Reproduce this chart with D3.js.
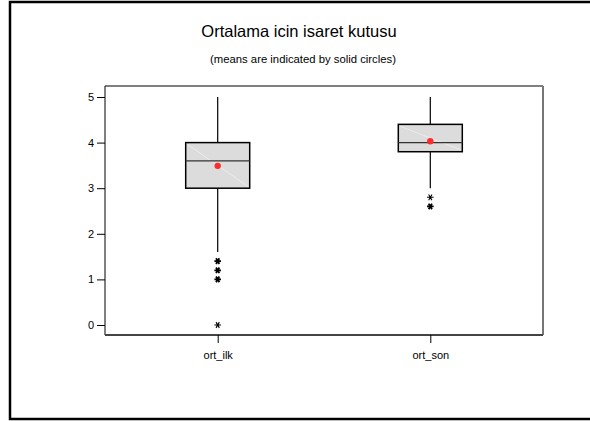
<!DOCTYPE html>
<html>
<head>
<meta charset="utf-8">
<script src="https://cdn.jsdelivr.net/npm/d3@7"></script>
<style>
  html, body { margin: 0; padding: 0; background: #fff; }
  text { font-family: "Liberation Sans", Arial, sans-serif; fill: #000; }
</style>
</head>
<body>
<svg id="chart" width="590" height="421"></svg>
<script>
// Box plot summaries for the two variables
const categories = ["ort_ilk", "ort_son"];
const q1 = [3.0, 3.8];
const medians = [3.6, 4.0];
const q3 = [4.0, 4.4];
const whiskerLow = [1.6, 3.0];
const whiskerHigh = [5.0, 5.0];
const means = [3.49, 4.03];
// Outliers: [category index, value, number of observations]
const outliers = [
  [0, 1.4, 2], [0, 1.2, 2], [0, 1.0, 2], [0, 0.0, 1],
  [1, 2.8, 1], [1, 2.6, 2]
];
const yTicks = [0, 1, 2, 3, 4, 5];

const svg = d3.select("#chart");

// Outer frame
svg.append("rect")
  .attr("x", 10).attr("y", 2)
  .attr("width", 590).attr("height", 417)
  .attr("fill", "none").attr("stroke", "#000").attr("stroke-width", 2.5);

// Titles
svg.append("text").attr("x", 299).attr("y", 37)
  .attr("text-anchor", "middle").attr("font-size", 16.5)
  .text("Ortalama icin isaret kutusu");
svg.append("text").attr("x", 303).attr("y", 63)
  .attr("text-anchor", "middle").attr("font-size", 11.3)
  .text("(means are indicated by solid circles)");

const plot = { left: 105, right: 543, top: 86, bottom: 335 };

const x = d3.scalePoint().domain(categories)
  .range([217.7, 430.3]);
const y = d3.scaleLinear().domain([0, 5]).range([325, 97]);

// Plot border: top/right gray, bottom dark
svg.append("line").attr("x1", plot.left).attr("x2", plot.right)
  .attr("y1", plot.top).attr("y2", plot.top)
  .attr("stroke", "#555").attr("stroke-width", 1.5);
svg.append("line").attr("x1", plot.right).attr("x2", plot.right)
  .attr("y1", plot.top).attr("y2", plot.bottom)
  .attr("stroke", "#777").attr("stroke-width", 2);

// Y axis
const yAxis = d3.axisLeft(y).tickValues(yTicks).tickSize(8).tickPadding(3)
  .tickFormat(d3.format("d"));
const gy = svg.append("g").attr("transform", `translate(${plot.left},0)`).call(yAxis);
gy.select(".domain").attr("d", `M0,${plot.top}V${plot.bottom}`).attr("stroke", "#000");
gy.selectAll("text").attr("font-size", 11).attr("font-family", "Liberation Sans, Arial, sans-serif");

// X axis
const xAxis = d3.axisBottom(x).tickSize(8).tickPadding(8);
const gx = svg.append("g").attr("transform", `translate(0,${plot.bottom})`).call(xAxis);
gx.select(".domain").attr("d", `M${plot.left},0H${plot.right}`)
  .attr("stroke", "#444").attr("stroke-width", 2);
gx.selectAll("text").attr("font-size", 11).attr("font-family", "Liberation Sans, Arial, sans-serif");

const boxW = 64;
const data = categories.map((c, i) => ({
  c, q1: q1[i], med: medians[i], q3: q3[i],
  lo: whiskerLow[i], hi: whiskerHigh[i], mean: means[i]
}));

const g = svg.append("g");
// Whiskers
g.selectAll(".wh-hi").data(data).join("line")
  .attr("x1", d => x(d.c)).attr("x2", d => x(d.c))
  .attr("y1", d => y(d.q3)).attr("y2", d => y(d.hi))
  .attr("stroke", "#000").attr("stroke-width", 1.2);
g.selectAll(".wh-lo").data(data).join("line")
  .attr("x1", d => x(d.c)).attr("x2", d => x(d.c))
  .attr("y1", d => y(d.q1)).attr("y2", d => y(d.lo))
  .attr("stroke", "#000").attr("stroke-width", 1.2);
// Boxes
g.selectAll(".box").data(data).join("rect")
  .attr("x", d => x(d.c) - boxW / 2).attr("width", boxW)
  .attr("y", d => y(d.q3)).attr("height", d => y(d.q1) - y(d.q3))
  .attr("fill", "#dcdcdc").attr("stroke", "#000").attr("stroke-width", 1.5);
// faint diagonal sheen inside each box
g.selectAll(".sheen").data(data).join("line")
  .attr("x1", d => x(d.c) - boxW / 2 + 2).attr("y1", d => y(d.q3) + 2)
  .attr("x2", d => x(d.c) + boxW / 2 - 2).attr("y2", d => y(d.q1) - 2)
  .attr("stroke", "#fff").attr("stroke-opacity", 0.55).attr("stroke-width", 0.8);
// Medians
g.selectAll(".med").data(data).join("line")
  .attr("x1", d => x(d.c) - boxW / 2).attr("x2", d => x(d.c) + boxW / 2)
  .attr("y1", d => y(d.med)).attr("y2", d => y(d.med))
  .attr("stroke", "#333").attr("stroke-width", 1.3);
// Means
g.selectAll(".mean").data(data).join("circle")
  .attr("cx", d => x(d.c)).attr("cy", d => y(d.mean)).attr("r", 3.2)
  .attr("fill", "#ff2a2a");
// Outliers as asterisks
const star = d3.symbol().type(d3.symbolAsterisk).size(30);
g.selectAll(".out").data(outliers).join("path")
  .attr("transform", d => `translate(${x(categories[d[0]])},${y(d[1])}) rotate(90)`)
  .attr("d", star)
  .attr("fill", "none").attr("stroke", "#000")
  .attr("stroke-width", d => d[2] > 1 ? 1.8 : 1.1);
</script>
</body>
</html>
